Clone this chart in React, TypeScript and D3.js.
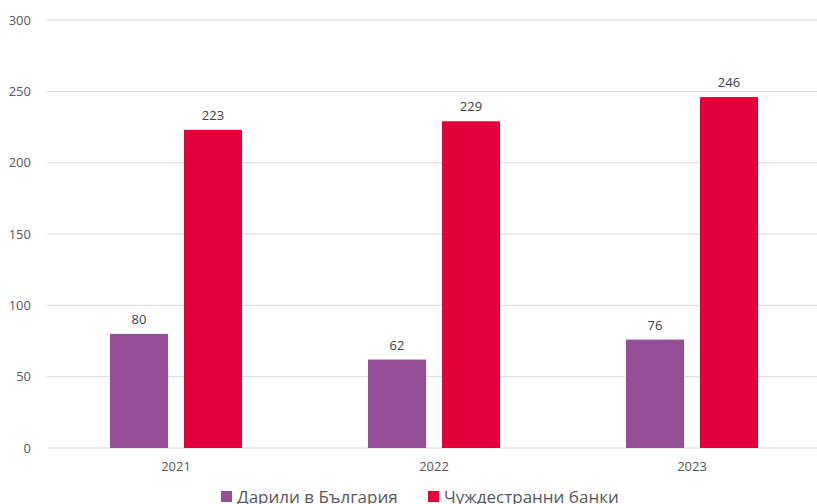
import React from "react";
import * as d3 from "d3";

const categories = ["2021", "2022", "2023"];
const seriesNames = ["Дарили в България", "Чуждестранни банки"];
const bulgaria = [80, 62, 76];
const foreign = [223, 229, 246];
const yTicks = [0, 50, 100, 150, 200, 250, 300];
const colors = ["#954F96", "#E4003B"];

const W = 817;
const H = 504;

export default function App() {
  const x = d3.scaleBand<string>().domain(categories).range([47, 821]);
  const y = d3.scaleLinear().domain([0, 300]).range([448, 20]);
  const barW = 58;
  const gap = 16;
  const series = [bulgaria, foreign];
  const font = "'Open Sans', 'Segoe UI', sans-serif";

  return (
    <svg
      width={W}
      height={H}
      style={{ position: "absolute", left: 0, top: 0, background: "#fff" }}
      fontFamily={font}
    >
      {yTicks.map((t) => (
        <g key={t}>
          <line x1={47} x2={W} y1={y(t)} y2={y(t)} stroke="#d9d9d9" strokeWidth={1} />
          <text x={31} y={y(t)} dy="0.35em" textAnchor="end" fontSize={13} fill="#595959">
            {t}
          </text>
        </g>
      ))}
      {categories.map((c, i) => {
        const cx = (x(c) as number) + x.bandwidth() / 2;
        return (
          <g key={c}>
            {series.map((s, si) => {
              const bx = si === 0 ? cx - gap / 2 - barW : cx + gap / 2;
              return (
                <g key={si}>
                  <rect x={bx} y={y(s[i])} width={barW} height={y(0) - y(s[i])} fill={colors[si]} />
                  <text
                    x={bx + barW / 2}
                    y={y(s[i]) - 10}
                    textAnchor="middle"
                    fontSize={13}
                    fill="#404040"
                  >
                    {s[i]}
                  </text>
                </g>
              );
            })}
            <text x={cx} y={471} textAnchor="middle" fontSize={13} fill="#595959">
              {c}
            </text>
          </g>
        );
      })}
      {seriesNames.map((n, i) => {
        const lx = i === 0 ? 221 : 428;
        return (
          <g key={n}>
            <rect x={lx} y={491} width={11} height={11} fill={colors[i]} />
            <text x={lx + 16} y={503} fontSize={17} fill="#595959">
              {n}
            </text>
          </g>
        );
      })}
    </svg>
  );
}
